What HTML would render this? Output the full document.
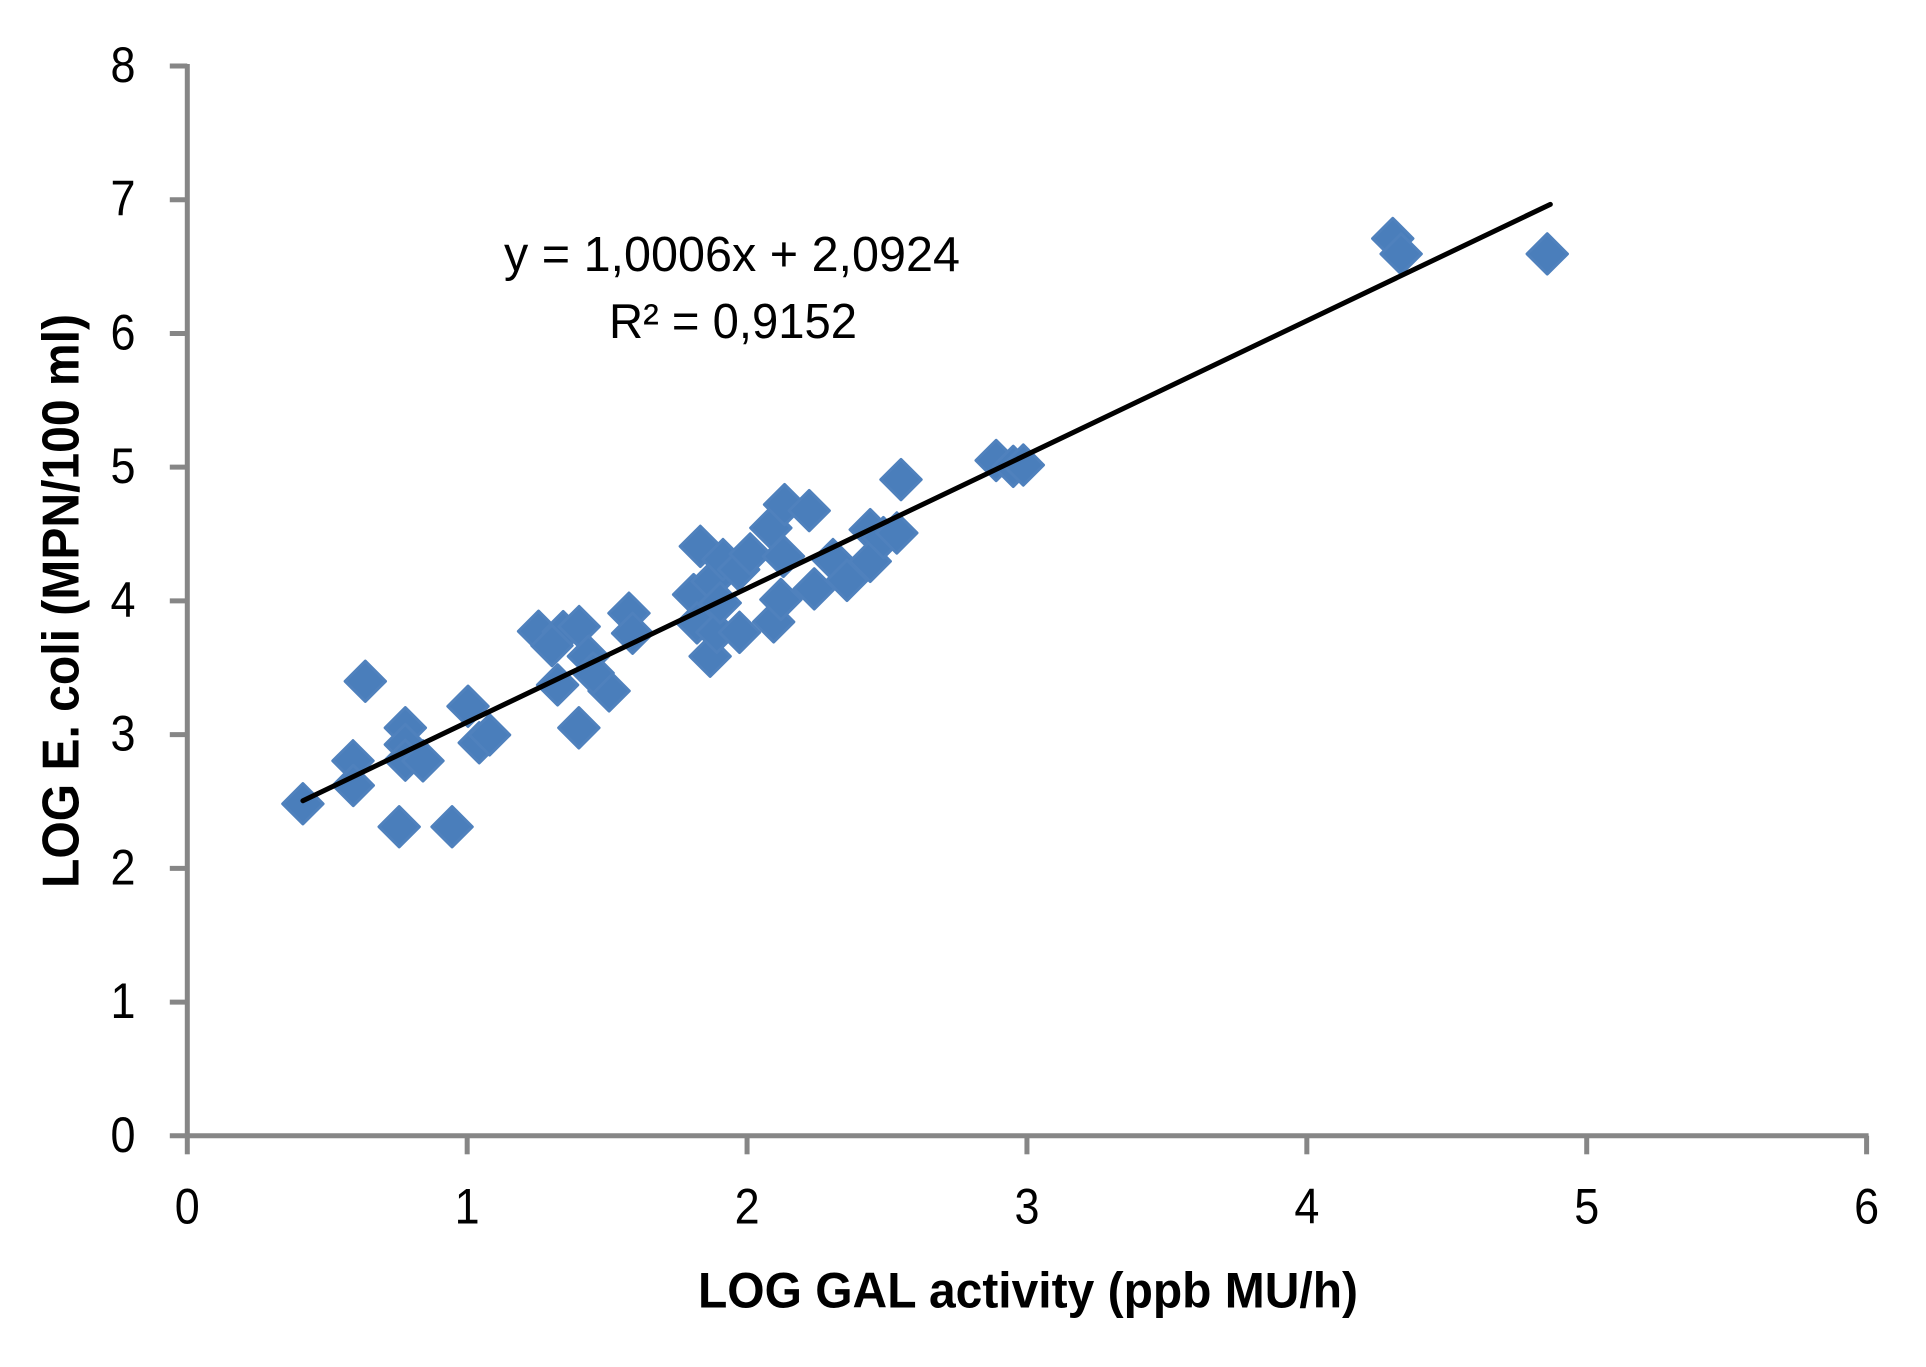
<!DOCTYPE html>
<html>
<head>
<meta charset="utf-8">
<title>LOG E. coli vs LOG GAL activity</title>
<style>
html,body{margin:0;padding:0;background:#fff;width:1926px;height:1367px;overflow:hidden}
svg{display:block}
text{font-family:"Liberation Sans",sans-serif;fill:#000}
</style>
</head>
<body>
<svg id="chart" xmlns="http://www.w3.org/2000/svg" width="1926" height="1367" viewBox="0 0 1926 1367">
<rect x="0" y="0" width="1926" height="1367" fill="#ffffff"/>
<g id="axes"></g>
<g id="points"></g>
<g id="trend"></g>
<text x="504" y="271" font-size="49" textLength="456" lengthAdjust="spacingAndGlyphs">y = 1,0006x + 2,0924</text>
<text x="609" y="338" font-size="49" textLength="248" lengthAdjust="spacingAndGlyphs">R² = 0,9152</text>
<text x="698" y="1307.5" font-size="50" font-weight="700" textLength="660" lengthAdjust="spacingAndGlyphs">LOG GAL activity (ppb MU/h)</text>
<text transform="translate(78.6,888) rotate(-90)" x="0" y="0" font-size="52" font-weight="700" textLength="574" lengthAdjust="spacingAndGlyphs">LOG E. coli (MPN/100 ml)</text>
</svg>
<script>
const xTickLabels = [0, 1, 2, 3, 4, 5, 6];
const yTickLabels = [0, 1, 2, 3, 4, 5, 6, 7, 8];
const xValues = [0.413,0.592,0.593,0.779,0.779,0.779,0.842,0.636,1.003,1.043,1.08,0.757,0.946,1.399,1.323,1.507,1.255,1.343,1.303,1.4,1.433,1.45,1.578,1.591,1.809,1.821,1.833,1.868,1.875,1.892,1.904,1.914,1.97,1.973,2.011,2.085,2.095,2.121,2.13,2.134,2.222,2.24,2.307,2.357,2.44,2.44,2.487,2.535,2.55,2.89,2.951,2.987,4.307,4.337,4.859];
const yValues = [2.483,2.804,2.62,3.051,2.926,2.809,2.804,3.399,3.212,2.939,2.998,2.311,2.311,3.051,3.372,3.327,3.773,3.77,3.666,3.808,3.586,3.46,3.908,3.758,4.047,3.836,4.408,3.586,4.146,3.765,3.985,4.309,4.234,3.765,4.351,4.546,3.843,4.01,4.333,4.72,4.675,4.09,4.309,4.154,4.533,4.296,4.473,4.508,4.907,5.05,5.006,5.016,6.71,6.595,6.595];
const trendSlope = 1.0006;
const trendIntercept = 2.0924;

const NS = 'http://www.w3.org/2000/svg';
const xMin = 0, xMax = 6, yMin = 0, yMax = 8;
const plotLeft = 187.3, plotRight = 1866.6, plotTop = 66, plotBottom = 1135.8;
function xScale(v) { return plotLeft + (v - xMin) / (xMax - xMin) * (plotRight - plotLeft); }
function yScale(v) { return plotBottom - (v - yMin) / (yMax - yMin) * (plotBottom - plotTop); }
function make(tag, attrs, parent) {
  const el = document.createElementNS(NS, tag);
  for (const k in attrs) el.setAttribute(k, attrs[k]);
  parent.appendChild(el);
  return el;
}
const axisColor = '#868686';
const axes = document.getElementById('axes');
const yAxisLine = make('line', {x1: plotLeft, x2: plotLeft, y1: plotTop - 2, y2: plotBottom, stroke: axisColor, 'stroke-width': 5}, axes);


const xAxisLine = make('line', {x1: plotLeft, x2: plotRight + 2, y1: plotBottom, y2: plotBottom, stroke: axisColor, 'stroke-width': 5}, axes);



xTickLabels.forEach(function (t) {
  const px = xScale(t);
  const tick = make('line', {x1: px, x2: px, y1: plotBottom, y2: plotBottom + 18.5, stroke: axisColor, 'stroke-width': 5}, axes);
  
  
  const label = make('text', {x: px, y: 1223.5, 'font-size': 50, 'text-anchor': 'middle', textLength: 25, lengthAdjust: 'spacingAndGlyphs'}, axes);
  label.textContent = t;
  
  
});
yTickLabels.forEach(function (t) {
  const py = yScale(t);
  const tick = make('line', {x1: plotLeft - 17.5, x2: plotLeft, y1: py, y2: py, stroke: axisColor, 'stroke-width': 5}, axes);
  
  
  const label = make('text', {x: 123, y: py + 16, 'font-size': 50, 'text-anchor': 'middle', textLength: 25, lengthAdjust: 'spacingAndGlyphs'}, axes);
  label.textContent = t;
  
  
});

const points = document.getElementById('points');
const markerHalf = 20.2;
xValues.forEach(function (xv, i) {
  const cx = xScale(xv), cy = yScale(yValues[i]);
  const d = make('polygon', {
    points: cx + ',' + (cy - markerHalf) + ' ' + (cx + markerHalf) + ',' + cy + ' ' + cx + ',' + (cy + markerHalf) + ' ' + (cx - markerHalf) + ',' + cy,
    fill: '#4a7ebb', stroke: '#4f81bd', 'stroke-width': 3, 'stroke-linejoin': 'round'
  }, points);
  
  
});

const trendX0 = Math.min.apply(null, xValues);
const trendX1 = Math.max.apply(null, xValues) + 0.011;
const trendLine = make('line', {
  x1: xScale(trendX0), y1: yScale(trendSlope * trendX0 + trendIntercept),
  x2: xScale(trendX1), y2: yScale(trendSlope * trendX1 + trendIntercept),
  stroke: '#000', 'stroke-width': 5, 'stroke-linecap': 'round'
}, document.getElementById('trend'));


</script>
</body>
</html>
